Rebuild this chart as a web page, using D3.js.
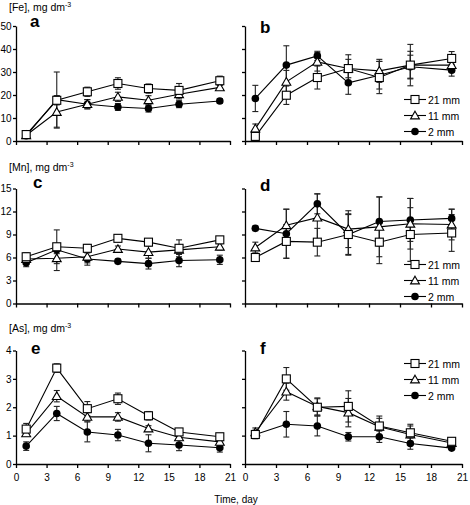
<!DOCTYPE html>
<html><head><meta charset="utf-8">
<script src="https://cdn.jsdelivr.net/npm/d3@7"></script>
<style>body{margin:0;background:#fff}svg{display:block;font-family:"Liberation Sans",Arial,sans-serif}</style>
</head><body><svg id="c" width="470" height="505"></svg>
<script>
const days = [1, 4, 7, 10, 13, 16, 20];
const xTicks = [0, 3, 6, 9, 12, 15, 18, 21];
const seriesNames = ["21 mm", "11 mm", "2 mm"];
const feTicks = [0, 10, 20, 30, 40, 50];
const mnTicks = [0, 3, 6, 9, 12, 15];
const asTicks = [0, 1, 2, 3, 4];

// Panel a: Fe
const aSq = [2.8, 17.7, 21.4, 25.0, 22.8, 22.0, 26.2];
const aTri = [2.5, 12.6, 16.0, 19.2, 17.7, 20.3, 23.3];
const aCir = [2.3, 18.0, 16.0, 14.8, 14.1, 16.0, 17.4];
const aSqE = [0.5, 2, 2, 2.5, 2, 3, 2];
const aTriE = [0.5, 7, 2, 2, 2, 2, 1];
const aCirE = [0.5, 12, 2, 1.5, 1.5, 1.5, 1];
// Panel b: Fe
const bSq = [2.0, 19.9, 27.6, 31.5, 27.6, 33.0, 35.9];
const bTri = [5.4, 25.7, 34.4, 31.5, 30.5, 33.0, 33.0];
const bCir = [18.5, 33.0, 37.0, 25.3, 28.6, 32.3, 30.8];
const bSqE = [1, 4, 5, 6, 7, 9, 3];
const bTriE = [2, 5, 4, 4, 5, 6, 3];
const bCirE = [5.7, 8.4, 2, 5, 6, 5, 2.6];
// Panel c: Mn
const cSq = [6.1, 7.4, 7.2, 8.5, 8.0, 7.2, 8.3];
const cTri = [5.8, 5.9, 6.1, 7.1, 6.7, 7.0, 7.4];
const cCir = [5.3, 7.0, 5.8, 5.5, 5.2, 5.6, 5.7];
const cSqE = [0.5, 2.2, 0.5, 0.3, 0.3, 1.1, 0.4];
const cTriE = [0.5, 1.6, 0.8, 0.4, 0.8, 0.5, 0.4];
const cCirE = [0.5, 0.5, 0.8, 0.3, 0.7, 0.8, 0.6];
// Panel d: Mn
const dSq = [6.0, 8.1, 8.0, 9.0, 8.0, 9.0, 9.2];
const dTri = [7.3, 10.2, 11.2, 9.7, 10.0, 10.4, 10.3];
const dCir = [9.8, 9.1, 13.0, 9.0, 10.7, 10.9, 11.1];
const dSqE = [0.4, 2.2, 1.8, 2.7, 2.8, 3.5, 2.4];
const dTriE = [0.7, 2.1, 3.1, 2.4, 3.9, 3.3, 2.0];
const dCirE = [0.3, 3.2, 1.3, 2.6, 3.2, 2.8, 1.2];
// Panel e: As
const eSq = [1.23, 3.38, 1.95, 2.3, 1.7, 1.13, 0.96];
const eTri = [1.08, 2.39, 1.66, 1.66, 1.25, 0.94, 0.78];
const eCir = [0.63, 1.78, 1.13, 1.02, 0.73, 0.67, 0.57];
const eSqE = [0.2, 0.15, 0.25, 0.2, 0.15, 0.1, 0.1];
const eTriE = [0.1, 0.2, 0.15, 0.15, 0.1, 0.1, 0.1];
const eCirE = [0.15, 0.25, 0.35, 0.2, 0.3, 0.2, 0.15];
// Panel f: As
const fSq = [1.04, 3.0, 2.0, 2.03, 1.34, 1.1, 0.8];
const fTri = [1.12, 2.55, 2.03, 1.81, 1.31, 1.04, 0.74];
const fCir = [1.04, 1.4, 1.34, 0.96, 0.96, 0.72, 0.56];
const fSqE = [0.15, 0.4, 0.3, 0.55, 0.35, 0.3, 0.1];
const fTriE = [0.15, 0.3, 0.3, 0.5, 0.3, 0.3, 0.1];
const fCirE = [0.1, 0.45, 0.35, 0.15, 0.2, 0.2, 0.05];

const svg = d3.select("#c");
const panels = [
  {id:"a", col:0, row:0, ticks:feTicks, max:50, s:[aSq,aTri,aCir], e:[aSqE,aTriE,aCirE], legend:false, title:"[Fe], mg dm", lx:30, ly:27},
  {id:"b", col:1, row:0, ticks:feTicks, max:50, s:[bSq,bTri,bCir], e:[bSqE,bTriE,bCirE], legend:true, legY:99.5, lx:260, ly:33},
  {id:"c", col:0, row:1, ticks:mnTicks, max:15, s:[cSq,cTri,cCir], e:[cSqE,cTriE,cCirE], legend:false, title:"[Mn], mg dm", lx:33, ly:188},
  {id:"d", col:1, row:1, ticks:mnTicks, max:15, s:[dSq,dTri,dCir], e:[dSqE,dTriE,dCirE], legend:true, legY:264.5, lx:260, ly:191},
  {id:"e", col:0, row:2, ticks:asTicks, max:4, s:[eSq,eTri,eCir], e:[eSqE,eTriE,eCirE], legend:false, title:"[As], mg dm", lx:31, ly:354},
  {id:"f", col:1, row:2, ticks:asTicks, max:4, s:[fSq,fTri,fCir], e:[fSqE,fTriE,fCirE], legend:true, legY:363.5, lx:260, ly:354}
];
const cols = [[16, 230], [245, 462]];
const rows = [[141, 26], [303.5, 188.5], [464, 350.5]];
const titleY = [11, 171, 332];

function marker(g, type, x, y) {
  if (type === 0) {
    g.append("rect").attr("x", x - 4).attr("y", y - 4).attr("width", 8).attr("height", 8)
      .attr("fill", "#fff").attr("stroke", "#000").attr("stroke-width", 1.1);
  } else if (type === 1) {
    const p = d3.symbol().type(d3.symbolTriangle).size(34)();
    g.append("path").attr("d", p).attr("transform", `translate(${x},${y + 0.8})`)
      .attr("fill", "#fff").attr("stroke", "#000").attr("stroke-width", 1.1);
  } else {
    g.append("circle").attr("cx", x).attr("cy", y).attr("r", 3.8).attr("fill", "#000");
  }
}

panels.forEach(p => {
  const x = d3.scaleLinear().domain([0, 21]).range(cols[p.col]);
  const y = d3.scaleLinear().domain([0, p.max]).range(rows[p.row]);
  const g = svg.append("g");
  const xa = d3.axisBottom(x).tickValues(xTicks).tickSizeInner(4).tickSizeOuter(0).tickPadding(4).tickFormat(d3.format("d"));
  if (p.row < 2) xa.tickFormat("");
  const gx = g.append("g").attr("transform", `translate(0,${rows[p.row][0]})`).call(xa);
  const ya = d3.axisLeft(y).tickValues(p.ticks).tickSizeInner(3).tickSizeOuter(0).tickPadding(1.5).tickFormat(d3.format("d"));
  if (p.col === 1) ya.tickFormat("");
  const gy = g.append("g").attr("transform", `translate(${cols[p.col][0]},0)`).call(ya);
  [gx, gy].forEach(a => {
    a.selectAll("path,line").attr("stroke", "#000").attr("stroke-width", 1.3);
    a.selectAll("text").attr("font-size", 10).attr("fill", "#000").attr("font-family", "Liberation Sans, Arial, sans-serif");
  });
  gx.selectAll("text").attr("dy", "0.85em");
  if (p.title) {
    const t = g.append("text").attr("x", 9).attr("y", titleY[p.row]).attr("font-size", 10.5).text(p.title);
    t.append("tspan").attr("font-size", 7).attr("dy", -4).text("-3");
  }
  g.append("text").attr("x", p.lx).attr("y", p.ly).attr("font-size", 17).attr("font-weight", "bold").text(p.id);
  const line = d3.line().x((d, i) => x(days[i])).y(d => y(d));
  p.s.forEach((ser, k) => {
    g.append("path").datum(ser).attr("d", line).attr("fill", "none").attr("stroke", "#000").attr("stroke-width", 1.1);
    ser.forEach((v, i) => {
      const e = p.e[k][i];
      const cx = x(days[i]);
      g.append("line").attr("x1", cx).attr("x2", cx).attr("y1", y(v - e)).attr("y2", y(v + e)).attr("stroke", "#222").attr("stroke-width", 1.1);
      [v - e, v + e].forEach(w => g.append("line").attr("x1", cx - 3).attr("x2", cx + 3).attr("y1", y(w)).attr("y2", y(w)).attr("stroke", "#222").attr("stroke-width", 1.1));
    });
  });
  [2, 1, 0].forEach(k => p.s[k].forEach((v, i) => marker(g, k, x(days[i]), y(v))));
  if (p.legend) {
    seriesNames.forEach((n, k) => {
      const ly = p.legY + k * 16;
      g.append("line").attr("x1", 404).attr("x2", 426).attr("y1", ly).attr("y2", ly).attr("stroke", "#000").attr("stroke-width", 1.1);
      marker(g, k, 415, ly);
      g.append("text").attr("x", 428).attr("y", ly + 4).attr("font-size", 10.5).text(n);
    });
  }
});
svg.append("text").attr("x", 236).attr("y", 503).attr("text-anchor", "middle").attr("font-size", 10).text("Time, day");
</script></body></html>
